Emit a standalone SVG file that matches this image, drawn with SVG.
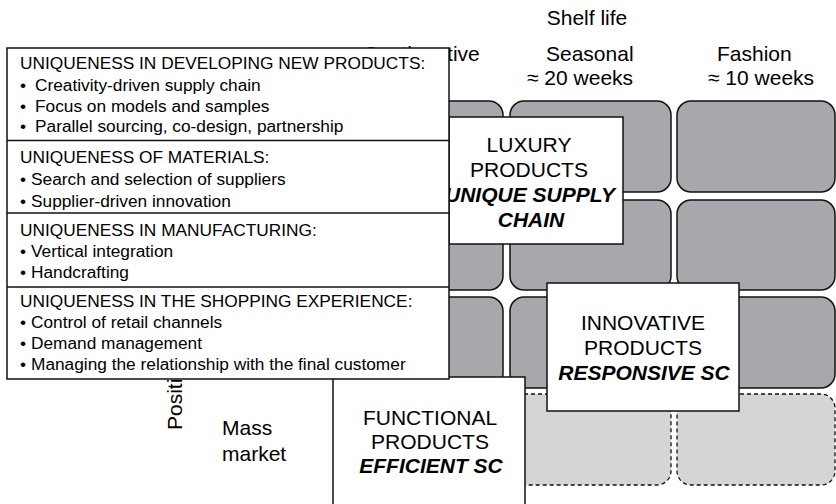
<svg xmlns="http://www.w3.org/2000/svg" width="836" height="504" viewBox="0 0 836 504">
<style>
text{font-family:"Liberation Sans",Arial,sans-serif;fill:#000}
.h{font-size:21px}
.m{text-anchor:middle}
.bi{font-weight:700;font-style:italic}
.s{font-size:17.3px}
.cell{fill:#a7a8ab;stroke:#111;stroke-width:1.5}
.dash{fill:#d4d5d7;stroke:#111;stroke-width:1.3;stroke-dasharray:4 3}
.box{fill:#fff;stroke:#111;stroke-width:1.5}
.div{stroke:#111;stroke-width:1.5;fill:none}
</style>
<rect width="836" height="504" fill="#fff"/>
<g id="labels">
<text class="h m" x="587" y="25">Shelf life</text>
<text class="h" x="363" y="61">Continuative</text>
<text class="h" x="546" y="61">Seasonal</text>
<text class="h" x="527" y="85">≈ 20 weeks</text>
<text class="h" x="717" y="61">Fashion</text>
<text class="h" x="708" y="85">≈ 10 weeks</text>
<text class="h" transform="translate(182,430) rotate(-90)">Positioning</text>
<text class="h" x="222" y="435">Mass</text>
<text class="h" x="222" y="461">market</text>
</g>
<g id="grid">
<rect class="cell" x="343" y="101" width="160" height="91" rx="14"/>
<rect class="cell" x="510" y="101" width="161" height="91" rx="14"/>
<rect class="cell" x="677" y="101" width="158" height="91" rx="14"/>
<rect class="cell" x="343" y="200" width="160" height="90" rx="14"/>
<rect class="cell" x="510" y="200" width="161" height="90" rx="14"/>
<rect class="cell" x="677" y="200" width="158" height="90" rx="14"/>
<rect class="cell" x="343" y="297" width="160" height="91" rx="14"/>
<rect class="cell" x="510" y="297" width="161" height="91" rx="14"/>
<rect class="cell" x="677" y="297" width="158" height="91" rx="14"/>
<rect class="dash" x="343" y="394" width="160" height="91" rx="14"/>
<rect class="dash" x="510" y="394" width="161" height="91" rx="14"/>
<rect class="dash" x="677" y="394" width="158" height="91" rx="14"/>
</g>
<g id="connectors"></g>
<g id="functional">
<rect class="box" x="333" y="377" width="192" height="140"/>
<text class="h m" x="430" y="425">FUNCTIONAL</text>
<text class="h m" x="430" y="449">PRODUCTS</text>
<text class="h m bi" x="431" y="473">EFFICIENT SC</text>
</g>
<g id="innovative">
<rect class="box" x="547" y="283" width="192" height="128"/>
<text class="h m" x="643" y="330">INNOVATIVE</text>
<text class="h m" x="643" y="355">PRODUCTS</text>
<text class="h m bi" x="644" y="380">RESPONSIVE SC</text>
</g>
<g id="luxury">
<rect class="box" x="449" y="117" width="174" height="127"/>
<text class="h m" x="529" y="152">LUXURY</text>
<text class="h m" x="529" y="177">PRODUCTS</text>
<text class="h m bi" x="530" y="202">UNIQUE SUPPLY</text>
<text class="h m bi" x="531" y="227">CHAIN</text>
</g>
<g id="uniqueness">
<rect class="box" x="7" y="48" width="442" height="331"/>
<line class="div" x1="7" y1="140.5" x2="449" y2="140.5"/>
<line class="div" x1="7" y1="213" x2="449" y2="213"/>
<line class="div" x1="7" y1="287" x2="449" y2="287"/>
<text class="s" x="20" y="69">UNIQUENESS IN DEVELOPING NEW PRODUCTS:</text>
<text class="s" x="20" y="91">•</text><text class="s" x="35" y="91">Creativity-driven supply chain</text>
<text class="s" x="20" y="112">•</text><text class="s" x="35" y="112">Focus on models and samples</text>
<text class="s" x="20" y="132">•</text><text class="s" x="35" y="132">Parallel sourcing, co-design, partnership</text>
<text class="s" x="20" y="163">UNIQUENESS OF MATERIALS:</text>
<text class="s" x="20" y="185">•</text><text class="s" x="31" y="185">Search and selection of suppliers</text>
<text class="s" x="20" y="206.5">•</text><text class="s" x="31" y="206.5">Supplier-driven innovation</text>
<text class="s" x="20" y="236">UNIQUENESS IN MANUFACTURING:</text>
<text class="s" x="20" y="257">•</text><text class="s" x="31" y="257">Vertical integration</text>
<text class="s" x="20" y="278">•</text><text class="s" x="31" y="278">Handcrafting</text>
<text class="s" x="20" y="307">UNIQUENESS IN THE SHOPPING EXPERIENCE:</text>
<text class="s" x="20" y="328">•</text><text class="s" x="31" y="328">Control of retail channels</text>
<text class="s" x="20" y="349">•</text><text class="s" x="31" y="349">Demand management</text>
<text class="s" x="20" y="370">•</text><text class="s" x="31" y="370">Managing the relationship with the final customer</text>
</g>
</svg>
